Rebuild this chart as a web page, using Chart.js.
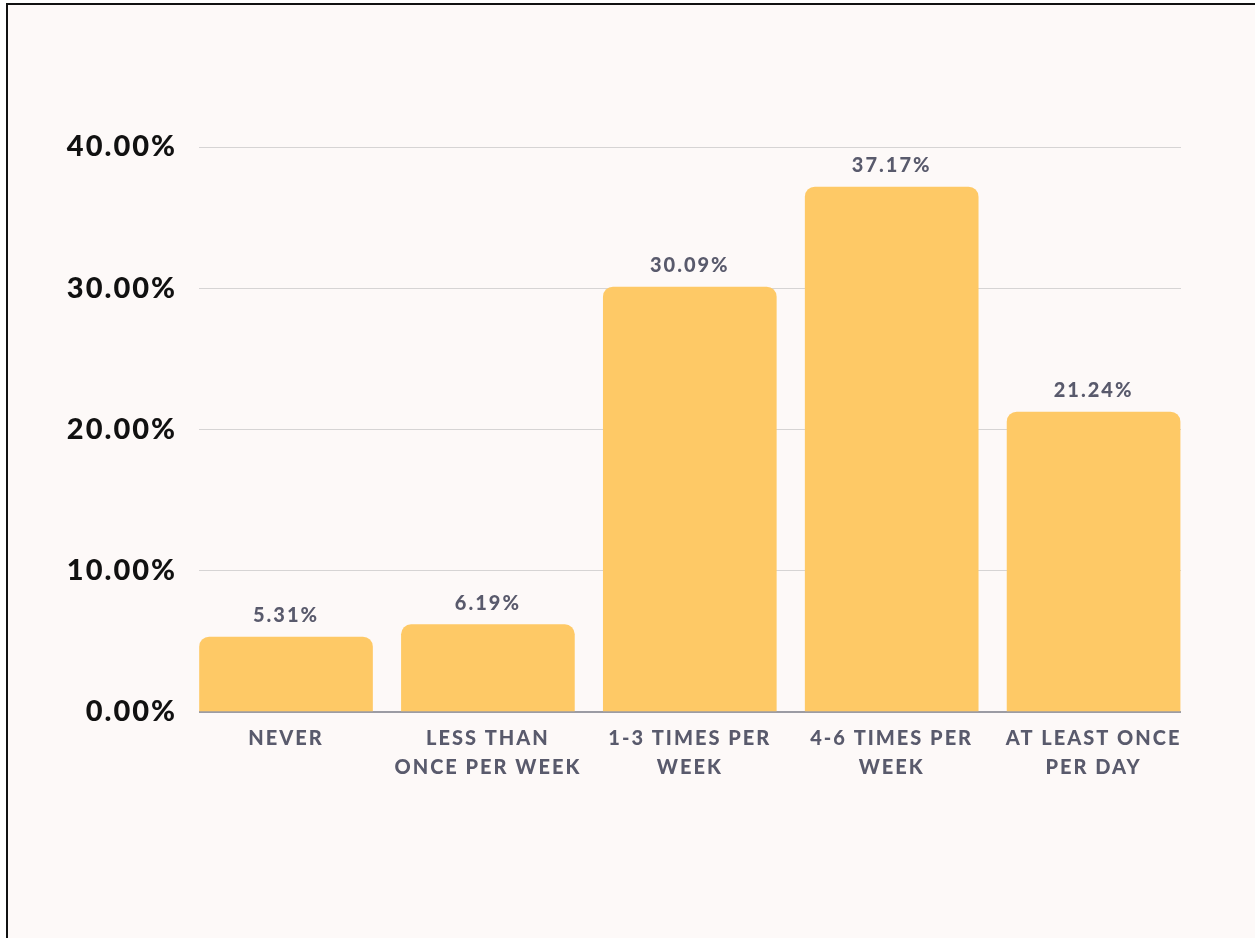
<!DOCTYPE html>
<html>
<head>
<meta charset="utf-8">
<script src="https://cdn.jsdelivr.net/npm/chart.js@4/dist/chart.umd.min.js"></script>
<style>
    html, body { margin: 0; padding: 0; background: #ffffff; }
    .frame {
        position: absolute;
        left: 6px; top: 3px; right: 0; bottom: 0;
        border-top: 2px solid #111;
        border-left: 2px solid #111;
        background: #fdf9f8;
    }
    #chart { display: block; }
</style>
</head>
<body>
<div class="frame">
    <canvas id="chart" width="1247" height="933"></canvas>
</div>
<script>
// Data
const categories = [
    'NEVER',
    ['LESS THAN', 'ONCE PER WEEK'],
    ['1-3 TIMES PER', 'WEEK'],
    ['4-6 TIMES PER', 'WEEK'],
    ['AT LEAST ONCE', 'PER DAY']
];
const shares = [5.31, 6.19, 30.09, 37.17, 21.24];
const yTicks = [0, 10, 20, 30, 40];

const labelGrey = '#595a6c';

// value labels above the bars
const valueLabels = {
    id: 'valueLabels',
    afterDatasetsDraw(chart) {
        const ctx = chart.ctx;
        const meta = chart.getDatasetMeta(0);
        ctx.save();
        ctx.font = '900 20px Lato';
        ctx.fillStyle = labelGrey;
        ctx.textAlign = 'center';
        ctx.textBaseline = 'bottom';
        meta.data.forEach((bar, i) => {
            ctx.fillText(shares[i].toFixed(2) + '%', bar.x, bar.y - 11);
        });
        ctx.restore();
    }
};

// canvas text has no letter spacing option in Chart.js, set it on the context
const spacing = {
    id: 'spacing',
    beforeDraw(chart) {
        chart.ctx.letterSpacing = '2px';
    }
};

// bars sit on a linear index axis so the outer bars can touch the plot edges
const points = shares.map((v, i) => ({ x: i, y: v }));

new Chart(document.getElementById('chart'), {
    type: 'bar',
    data: {
        datasets: [{
            data: points,
            backgroundColor: '#fec966',
            borderRadius: 10,
            barThickness: 173
        }]
    },
    options: {
        responsive: false,
        animation: false,
        layout: { padding: { top: 142, right: 74, left: 0, bottom: 0 } },
        plugins: {
            legend: { display: false },
            tooltip: { enabled: false }
        },
        scales: {
            x: {
                type: 'linear',
                min: -0.431,
                max: 4.433,
                offset: false,
                afterBuildTicks(scale) {
                    scale.ticks = categories.map((c, i) => ({ value: i }));
                },
                grid: { display: false },
                border: { display: false },
                ticks: {
                    color: labelGrey,
                    font: { family: 'Lato', weight: '900', size: 20, lineHeight: 1.45 },
                    padding: 4,
                    maxRotation: 0,
                    autoSkip: false,
                    callback: v => categories[v]
                },
                afterFit(scale) { scale.height = 226; }
            },
            y: {
                min: 0,
                max: 40,
                afterBuildTicks(scale) {
                    scale.ticks = yTicks.map(v => ({ value: v }));
                },
                grid: {
                    drawTicks: false,
                    color: ctx => ctx.tick && ctx.tick.value === 0 ? '#9c9ca4' : '#d6d4d4',
                    lineWidth: ctx => ctx.tick && ctx.tick.value === 0 ? 2 : 1
                },
                border: { display: false },
                ticks: {
                    color: '#111111',
                    font: { family: 'Lato', weight: '900', size: 29 },
                    padding: 22,
                    callback: v => v.toFixed(2) + '%'
                },
                afterFit(scale) { scale.width = 191; }
            }
        }
    },
    plugins: [spacing, valueLabels]
});
</script>
</body>
</html>
